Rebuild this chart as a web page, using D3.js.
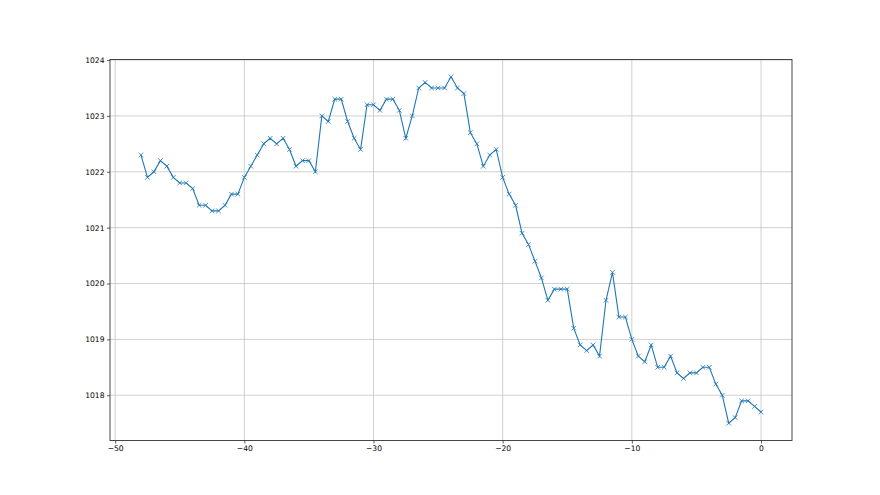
<!DOCTYPE html>
<html>
<head>
<meta charset="utf-8">
<script src="https://cdn.jsdelivr.net/npm/d3@7"></script>
<style>
	body{ margin:0; background:#fff; }
	.tick text{ font-family:"DejaVu Sans"; font-size:7.6px; fill:#000; }
</style>
</head>
<body>
<div id="chart"></div>
<script>

// time offsets
const xValues = [
	-48, -47.5, -47, -46.5, -46, -45.5, -45, -44.5, -44, -43.5, -43, -42.5, -42, -41.5, -41, -40.5,
	-40, -39.5, -39, -38.5, -38, -37.5, -37, -36.5, -36, -35.5, -35, -34.5, -34, -33.5, -33, -32.5,
	-32, -31.5, -31, -30.5, -30, -29.5, -29, -28.5, -28, -27.5, -27, -26.5, -26, -25.5, -25, -24.5,
	-24, -23.5, -23, -22.5, -22, -21.5, -21, -20.5, -20, -19.5, -19, -18.5, -18, -17.5, -17, -16.5,
	-16, -15.5, -15, -14.5, -14, -13.5, -13, -12.5, -12, -11.5, -11, -10.5, -10, -9.5, -9, -8.5,
	-8, -7.5, -7, -6.5, -6, -5.5, -5, -4.5, -4, -3.5, -3, -2.5, -2, -1.5, -1, -0.5, 0
];

// pressure
const pressure = [
	1022.3, 1021.9, 1022.0, 1022.2, 1022.1, 1021.9, 1021.8, 1021.8, 1021.7, 1021.4, 1021.4, 1021.3, 1021.3, 1021.4, 1021.6, 1021.6,
	1021.9, 1022.1, 1022.3, 1022.5, 1022.6, 1022.5, 1022.6, 1022.4, 1022.1, 1022.2, 1022.2, 1022.0, 1023.0, 1022.9, 1023.3, 1023.3,
	1022.9, 1022.6, 1022.4, 1023.2, 1023.2, 1023.1, 1023.3, 1023.3, 1023.1, 1022.6, 1023.0, 1023.5, 1023.6, 1023.5, 1023.5, 1023.5,
	1023.7, 1023.5, 1023.4, 1022.7, 1022.5, 1022.1, 1022.3, 1022.4, 1021.9, 1021.6, 1021.4, 1020.9, 1020.7, 1020.4, 1020.1, 1019.7,
	1019.9, 1019.9, 1019.9, 1019.2, 1018.9, 1018.8, 1018.9, 1018.7, 1019.7, 1020.2, 1019.4, 1019.4, 1019.0, 1018.7, 1018.6, 1018.9,
	1018.5, 1018.5, 1018.7, 1018.4, 1018.3, 1018.4, 1018.4, 1018.5, 1018.5, 1018.2, 1018.0, 1017.5, 1017.6, 1017.9, 1017.9, 1017.8, 1017.7
];

const xTicks = [-50, -40, -30, -20, -10, 0];
const yTicks = [1018, 1019, 1020, 1021, 1022, 1023, 1024];

const width = 880, height = 495;
const margin = { top: 59.5, right: 88, bottom: 54.5, left: 110 };

const data = xValues.map((x, i) => ({ x: x, y: pressure[i] }));

const xPad = (d3.max(xValues) - d3.min(xValues)) * 0.05,
	yPad = (d3.max(pressure) - d3.min(pressure)) * 0.05;

const x = d3.scaleLinear()
	.domain([d3.min(xValues) - xPad, d3.max(xValues) + xPad])
	.range([margin.left, width - margin.right]);

const y = d3.scaleLinear()
	.domain([d3.min(pressure) - yPad, d3.max(pressure) + yPad])
	.range([height - margin.bottom, margin.top]);

const svg = d3.select("#chart")
	.append("svg")
	.attr("width", width)
	.attr("height", height);

// grid
svg.append("g")
	.selectAll("line.vx")
	.data(xTicks)
	.join("line")
		.attr("x1", d => x(d)).attr("x2", d => x(d))
		.attr("y1", margin.top).attr("y2", height - margin.bottom)
		.attr("stroke", "#c4c4c4").attr("stroke-width", 0.8);

svg.append("g")
	.selectAll("line.hy")
	.data(yTicks)
	.join("line")
		.attr("y1", d => y(d)).attr("y2", d => y(d))
		.attr("x1", margin.left).attr("x2", width - margin.right)
		.attr("stroke", "#c4c4c4").attr("stroke-width", 0.8);

// axes
const xAxis = svg.append("g")
	.attr("transform", "translate(0," + (height - margin.bottom) + ")")
	.call(d3.axisBottom(x).tickValues(xTicks).tickSize(3).tickPadding(2.5)
		.tickFormat(d => d < 0 ? "\u2212" + Math.abs(d) : d));

const yAxis = svg.append("g")
	.attr("transform", "translate(" + margin.left + ",0)")
	.call(d3.axisLeft(y).tickValues(yTicks).tickSize(3).tickPadding(2.5)
		.tickFormat(d3.format("d")));

[xAxis, yAxis].forEach(a => {
	a.select(".domain").remove();
	a.selectAll(".tick line").attr("stroke", "#333").attr("stroke-width", 0.8);
});

// frame
svg.append("rect")
	.attr("x", margin.left)
	.attr("y", margin.top)
	.attr("width", width - margin.left - margin.right)
	.attr("height", height - margin.top - margin.bottom)
	.attr("fill", "none")
	.attr("stroke", "#333")
	.attr("stroke-width", 0.9);

// line
svg.append("path")
	.datum(data)
	.attr("fill", "none")
	.attr("stroke", "#1f77b4")
	.attr("stroke-width", 1.1)
	.attr("d", d3.line().x(d => x(d.x)).y(d => y(d.y)));

// markers
const m = 2.3;
svg.append("g")
	.selectAll("path")
	.data(data)
	.join("path")
		.attr("transform", d => "translate(" + x(d.x) + "," + y(d.y) + ")")
		.attr("d", "M" + (-m) + "," + (-m) + "L" + m + "," + m + "M" + (-m) + "," + m + "L" + m + "," + (-m))
		.attr("stroke", "#1f77b4")
		.attr("stroke-width", 0.8)
		.attr("fill", "none");

</script>
</body>
</html>
